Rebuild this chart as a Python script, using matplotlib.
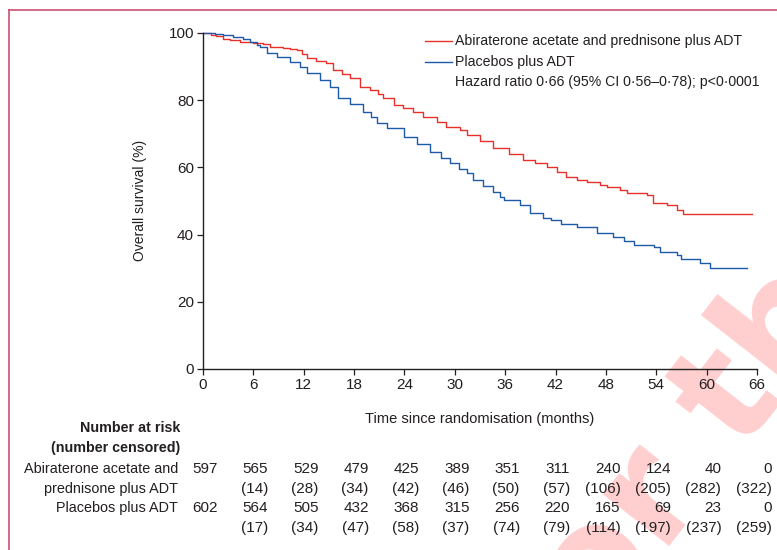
import matplotlib
matplotlib.use("Agg")
import matplotlib.pyplot as plt
from matplotlib.lines import Line2D
import matplotlib.transforms as mtransforms

plt.rcParams['font.family'] = ['Liberation Sans', 'DejaVu Sans']

# curvas de Kaplan-Meier (meses, % sobrevida)
tempo_abi = [0, 1.0, 1.6, 2.4, 3.2, 4.4, 6.0, 7.2, 8.0, 9.5, 10.4, 11.2, 11.8, 12.4,
             13.5, 14.7, 15.5, 16.5, 17.5, 18.7, 19.9, 20.8, 21.5, 22.7, 23.8, 25.0,
             26.2, 27.9, 29.0, 30.6, 31.4, 33.0, 34.6, 36.4, 38.1, 39.5, 41.0, 42.2,
             43.3, 44.5, 45.7, 47.3, 48.1, 49.7, 50.5, 52.9, 53.6, 55.3, 56.5, 57.2, 65.4]
surv_abi = [100, 99.5, 99.0, 98.3, 97.8, 97.3, 96.9, 96.6, 95.9, 95.6, 95.3, 94.8, 93.7,
            92.5, 91.8, 91.0, 89.0, 87.8, 86.5, 84.0, 83.0, 81.8, 80.6, 78.6, 77.7, 76.4,
            75.1, 73.6, 72.1, 71.1, 69.6, 67.8, 65.7, 64.0, 62.2, 61.2, 60.2, 58.7, 57.2,
            56.2, 55.7, 54.8, 54.2, 53.3, 52.3, 51.8, 49.4, 48.8, 47.3, 46.0, 46.0]

tempo_plac = [0, 1.4, 2.4, 3.6, 4.8, 5.6, 6.4, 6.8, 7.6, 8.8, 10.4, 11.6, 12.4, 13.9,
              15.1, 16.1, 17.5, 19.1, 20.0, 20.7, 21.9, 23.9, 25.5, 27.1, 28.3, 29.4,
              30.5, 31.4, 32.2, 33.4, 34.6, 35.4, 35.8, 37.8, 39.0, 40.5, 41.5, 42.6,
              44.5, 46.9, 48.9, 50.2, 51.3, 53.7, 54.5, 56.5, 56.9, 59.2, 60.4, 64.8]
surv_plac = [100, 99.8, 99.4, 98.9, 98.1, 97.4, 96.4, 95.9, 93.9, 92.9, 91.5, 90.0, 88.0,
             86.0, 84.0, 80.6, 79.0, 76.6, 75.0, 73.1, 71.6, 69.1, 67.1, 64.6, 62.9, 61.2,
             59.5, 58.2, 56.2, 54.5, 52.8, 51.3, 50.3, 48.8, 46.3, 44.8, 44.2, 43.3, 42.4,
             40.4, 39.4, 38.2, 36.9, 36.4, 34.9, 33.9, 32.7, 31.4, 30.0, 30.0]

# numero em risco
tempos_risco = [0, 6, 12, 18, 24, 30, 36, 42, 48, 54, 60, 66]
risco_abi = [597, 565, 529, 479, 425, 389, 351, 311, 240, 124, 40, 0]
cens_abi = [None, 14, 28, 34, 42, 46, 50, 57, 106, 205, 282, 322]
risco_plac = [602, 564, 505, 432, 368, 315, 256, 220, 165, 69, 23, 0]
cens_plac = [None, 17, 34, 47, 58, 37, 74, 79, 114, 197, 237, 259]

nome_abi = 'Abiraterone acetate and prednisone plus ADT'
nome_plac = 'Placebos plus ADT'
texto_hr = 'Hazard ratio 0·66 (95% CI 0·56–0·78); p<0·0001'

cor_abi = '#e8302a'
cor_plac = '#1d5ba8'
cor_txt = '#231f20'

W, H = 777, 550
fig = plt.figure(figsize=(7.77, 5.5), dpi=100)
ax = fig.add_axes([203 / W, 1 - 369 / H, 554 / W, 336 / H])
ax.patch.set_alpha(0)

# marca d'agua
fig.text(0.905, 0.21, 'for the', rotation=52, fontsize=110, fontweight='bold',
         color='#ffcfcf', ha='center', va='center', zorder=-5, family='DejaVu Sans')

ax.plot(tempo_abi, surv_abi, drawstyle='steps-post', color=cor_abi, lw=1.0, clip_on=False)
ax.plot(tempo_plac, surv_plac, drawstyle='steps-post', color=cor_plac, lw=1.0, clip_on=False)

ax.set_xlim(0, 66)
ax.set_ylim(0, 100)
ax.set_xticks(range(0, 67, 6))
ax.set_yticks(range(0, 101, 20))
for s in ['top', 'right']:
    ax.spines[s].set_visible(False)
for s in ['left', 'bottom']:
    ax.spines[s].set_linewidth(1.0)
    ax.spines[s].set_color(cor_txt)
ax.tick_params(direction='out', length=4, width=0.9, colors=cor_txt, labelsize=11, pad=2.5)

ax.set_ylabel('Overall survival (%)', fontsize=10, color=cor_txt)
ax.yaxis.set_label_coords(-0.101, 0.503)
ax.set_xlabel('Time since randomisation (months)', fontsize=10.5, color=cor_txt)
ax.xaxis.set_label_coords(0.5, -0.128)

# legenda manual
fy = lambda y: 1 - y / H
fx = lambda x: x / W
fig.add_artist(Line2D([fx(425), fx(452)], [fy(41), fy(41)], color=cor_abi, lw=1.0))
fig.add_artist(Line2D([fx(425), fx(452)], [fy(62), fy(62)], color=cor_plac, lw=1.0))
fig.text(fx(455), fy(41), nome_abi, fontsize=10.2, color=cor_txt, va='center')
fig.text(fx(455), fy(62), nome_plac, fontsize=10.2, color=cor_txt, va='center')
fig.text(fx(455), fy(82), texto_hr, fontsize=10.2, color=cor_txt, va='center')

# tabela numero em risco
trans = mtransforms.blended_transform_factory(ax.transData, fig.transFigure)
fig.text(fx(180), fy(428), 'Number at risk', fontsize=10.3, fontweight='bold', ha='right', va='center', color=cor_txt)
fig.text(fx(180), fy(448), '(number censored)', fontsize=10.3, fontweight='bold', ha='right', va='center', color=cor_txt)
fig.text(fx(178), fy(469), 'Abiraterone acetate and', fontsize=10.4, ha='right', va='center', color=cor_txt)
fig.text(fx(178), fy(489), 'prednisone plus ADT', fontsize=10.4, ha='right', va='center', color=cor_txt)
fig.text(fx(178), fy(508), 'Placebos plus ADT', fontsize=10.4, ha='right', va='center', color=cor_txt)

for t, n1, c1, n2, c2 in zip(tempos_risco, risco_abi, cens_abi, risco_plac, cens_plac):
    xx = t + 1.75
    ax.text(xx, fy(469), str(n1), transform=trans, fontsize=11, ha='right', va='center', color=cor_txt, clip_on=False)
    ax.text(xx, fy(508), str(n2), transform=trans, fontsize=11, ha='right', va='center', color=cor_txt, clip_on=False)
    if c1 is not None:
        ax.text(xx, fy(489), '(' + str(c1) + ')', transform=trans, fontsize=11, ha='right', va='center', color=cor_txt, clip_on=False)
    if c2 is not None:
        ax.text(xx, fy(528), '(' + str(c2) + ')', transform=trans, fontsize=11, ha='right', va='center', color=cor_txt, clip_on=False)

# moldura
cor_borda = '#c8506e'
fig.add_artist(Line2D([fx(9), 1], [fy(10), fy(10)], color=cor_borda, lw=1.2))
fig.add_artist(Line2D([fx(9), fx(9)], [fy(10), 0], color=cor_borda, lw=1.2))

fig.savefig('out.png', dpi=100)
